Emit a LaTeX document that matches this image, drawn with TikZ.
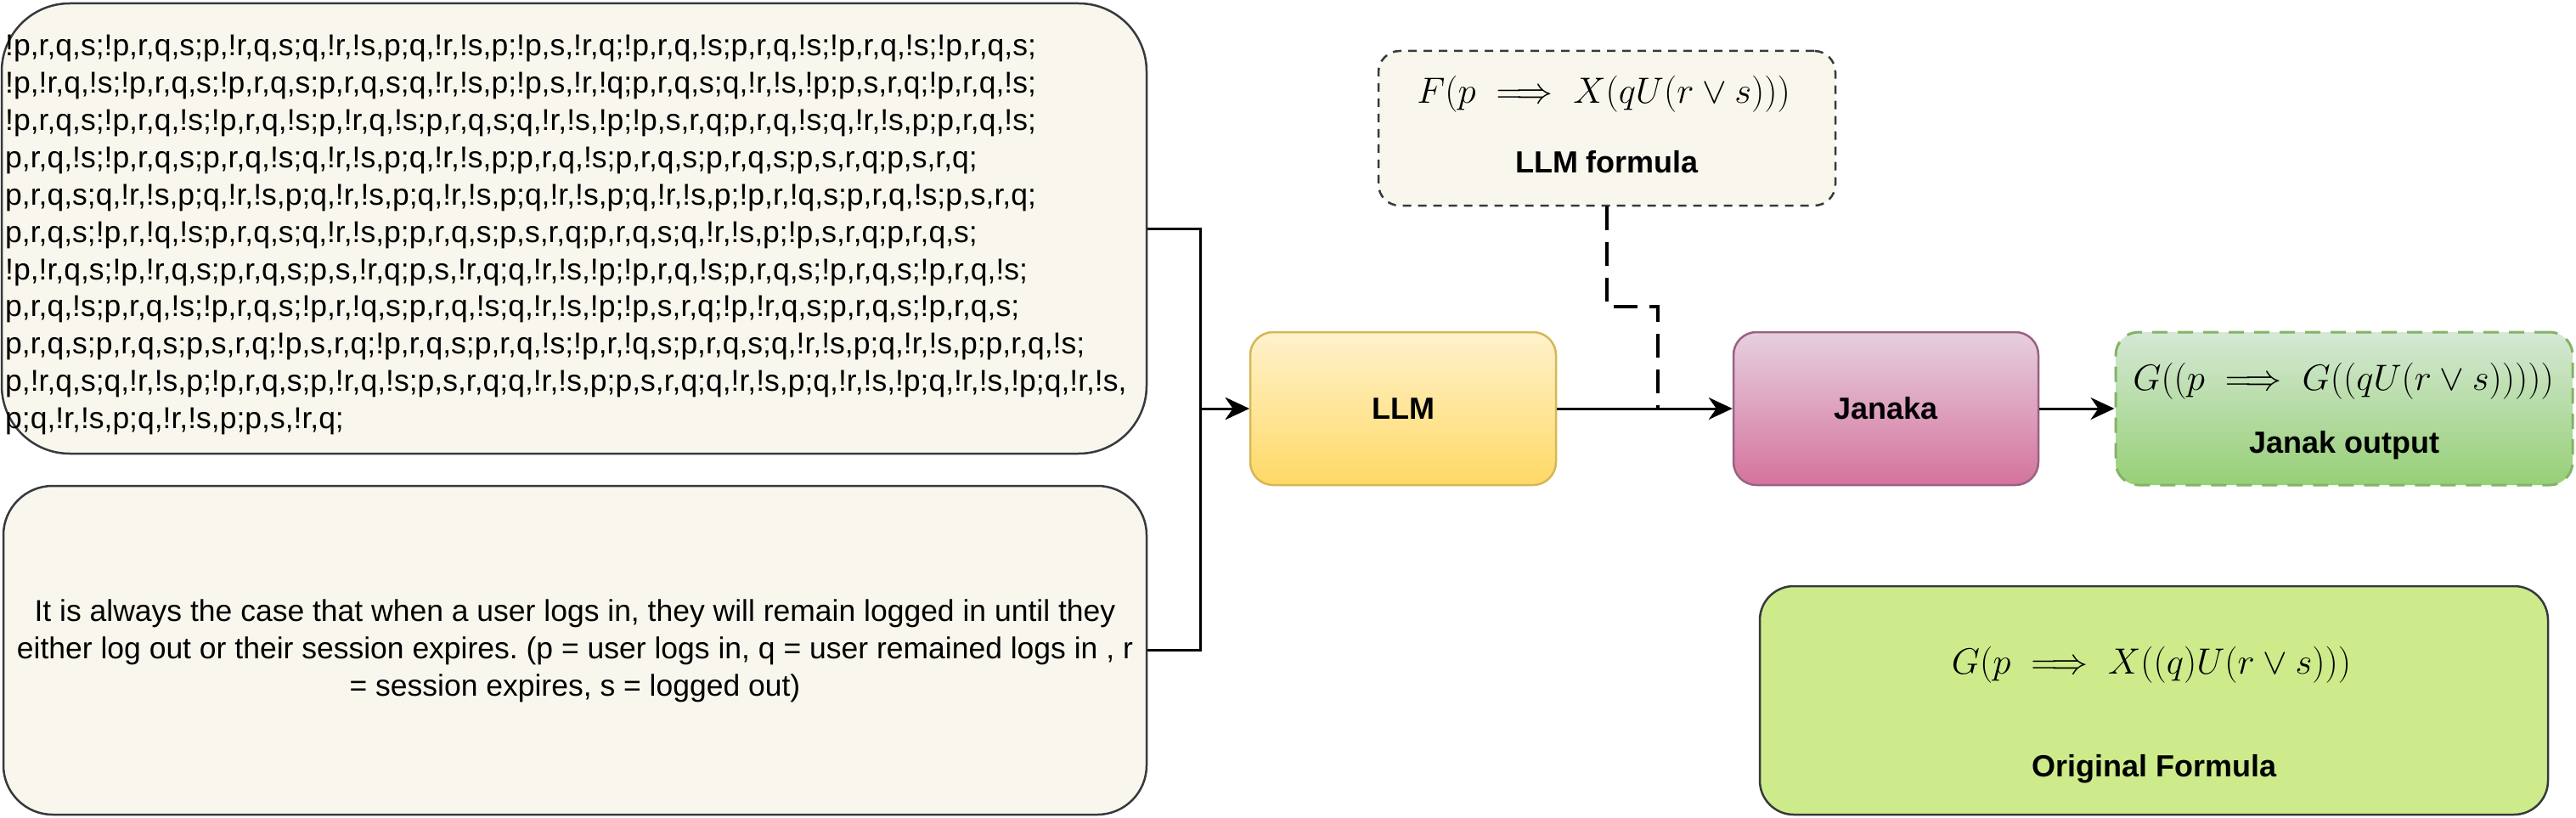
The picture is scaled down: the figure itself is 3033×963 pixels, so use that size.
\RequirePackage{fix-cm}
\documentclass[tikz,border=0pt]{standalone}
\usepackage{amsmath}
\usepackage[no-math]{fontspec}
\setmainfont{Liberation Sans}
\usetikzlibrary{arrows.meta}
\frenchspacing

\definecolor{boxline}{HTML}{36393D}
\definecolor{boxfill}{HTML}{F9F7ED}
\definecolor{llmtop}{HTML}{FFF2CC}
\definecolor{llmbot}{HTML}{FFD966}
\definecolor{llmline}{HTML}{D6B656}
\definecolor{jantop}{HTML}{E6D0DE}
\definecolor{janbot}{HTML}{D5739D}
\definecolor{janline}{HTML}{996185}
\definecolor{outtop}{HTML}{D5E8D4}
\definecolor{outbot}{HTML}{97D077}
\definecolor{outgreen}{HTML}{82B366}
\definecolor{origfill}{HTML}{CDEB8B}

\begin{document}
\begin{tikzpicture}[x=1pt,y=-1pt,
  txt/.style={font=\fontsize{35.5}{43.9}\selectfont, inner sep=0pt},
  lbl/.style={font=\fontsize{36}{43}\selectfont\bfseries, inner sep=0pt},
  mth/.style={font=\fontsize{43}{50}\selectfont, inner sep=0pt},
  greybox/.style={draw=boxline, fill=boxfill, line width=2.5pt, rectangle, inner sep=0pt},
  llmbox/.style={draw=llmline, top color=llmtop, bottom color=llmbot, line width=2.5pt, rounded corners=27pt, minimum width=360pt, minimum height=180pt, inner sep=0pt},
  janbox/.style={draw=janline, top color=jantop, bottom color=janbot, line width=2.5pt, rounded corners=27pt, minimum width=359pt, minimum height=180pt, inner sep=0pt},
  outbox/.style={draw=outgreen, top color=outtop, bottom color=outbot, line width=3pt, dash pattern=on 18pt off 12pt, rounded corners=27pt, minimum width=538pt, minimum height=180pt, inner sep=0pt},
  fbox/.style={draw=boxline, fill=boxfill, line width=2.5pt, dash pattern=on 10pt off 8pt, rounded corners=25pt, minimum width=538pt, minimum height=182pt, inner sep=0pt},
  origbox/.style={draw=boxline, fill=origfill, line width=2.5pt, rounded corners=40pt, minimum width=928pt, minimum height=269pt, inner sep=0pt},
  arrow/.style={draw=black, line width=3pt, -{Stealth[length=28pt,width=26pt,inset=9pt]}},
  sketchdash/.style={draw=black, line width=4pt, dash pattern=on 28pt off 14pt}
]
\useasboundingbox (0,0) rectangle (3033,963);

% left boxes
\node[greybox, rounded corners=80pt, minimum width=1348pt, minimum height=530pt] (tl) at (676,269) {};
\node[txt, anchor=north west, align=left] (tltext) at (6,41) {%
!p,r,q,s;!p,r,q,s;p,!r,q,s;q,!r,!s,p;q,!r,!s,p;!p,s,!r,q;!p,r,q,!s;p,r,q,!s;!p,r,q,!s;!p,r,q,s;\\
!p,!r,q,!s;!p,r,q,s;!p,r,q,s;p,r,q,s;q,!r,!s,p;!p,s,!r,!q;p,r,q,s;q,!r,!s,!p;p,s,r,q;!p,r,q,!s;\\
!p,r,q,s;!p,r,q,!s;!p,r,q,!s;p,!r,q,!s;p,r,q,s;q,!r,!s,!p;!p,s,r,q;p,r,q,!s;q,!r,!s,p;p,r,q,!s;\\
p,r,q,!s;!p,r,q,s;p,r,q,!s;q,!r,!s,p;q,!r,!s,p;p,r,q,!s;p,r,q,s;p,r,q,s;p,s,r,q;p,s,r,q;\\
p,r,q,s;q,!r,!s,p;q,!r,!s,p;q,!r,!s,p;q,!r,!s,p;q,!r,!s,p;q,!r,!s,p;!p,r,!q,s;p,r,q,!s;p,s,r,q;\\
p,r,q,s;!p,r,!q,!s;p,r,q,s;q,!r,!s,p;p,r,q,s;p,s,r,q;p,r,q,s;q,!r,!s,p;!p,s,r,q;p,r,q,s;\\
!p,!r,q,s;!p,!r,q,s;p,r,q,s;p,s,!r,q;p,s,!r,q;q,!r,!s,!p;!p,r,q,!s;p,r,q,s;!p,r,q,s;!p,r,q,!s;\\
p,r,q,!s;p,r,q,!s;!p,r,q,s;!p,r,!q,s;p,r,q,!s;q,!r,!s,!p;!p,s,r,q;!p,!r,q,s;p,r,q,s;!p,r,q,s;\\
p,r,q,s;p,r,q,s;p,s,r,q;!p,s,r,q;!p,r,q,s;p,r,q,!s;!p,r,!q,s;p,r,q,s;q,!r,!s,p;q,!r,!s,p;p,r,q,!s;\\
p,!r,q,s;q,!r,!s,p;!p,r,q,s;p,!r,q,!s;p,s,r,q;q,!r,!s,p;p,s,r,q;q,!r,!s,p;q,!r,!s,!p;q,!r,!s,!p;q,!r,!s,\\
p;q,!r,!s,p;q,!r,!s,p;p,s,!r,q;};

\node[greybox, rounded corners=58pt, minimum width=1346pt, minimum height=387pt] (bl) at (677,765.5) {};
\node[txt, align=center] (bltext) at (677,766) {It is always the case that when a user logs in, they will remain logged in until they\\either log out or their session expires. (p = user logs in, q = user remained logs in , r\\= session expires, s = logged out)};

% middle boxes
\node[llmbox, lbl] (llm) at (1652,481) {LLM};
\node[janbox, lbl] (jan) at (2220.5,481) {Janaka};

% LLM formula
\node[fbox] (llmf) at (1892,151) {};
\node[mth] (llmfm) at (1888,111) {$F(p \implies X(qU(r \lor s)))$};
\node[lbl] (llmfl) at (1892,191) {LLM formula};

% Janak output
\node[outbox] (out) at (2760,481) {};
\node[mth] (outm) at (2759,449) {$G((p \implies G((qU(r \lor s)))))$};
\node[lbl] (outl) at (2760,524) {Janak output};

% Original formula
\node[origbox] (orig) at (2536,824.5) {};
\node[mth] (origm) at (2533,783) {$G(p \implies X((q)U(r \lor s)))$};
\node[lbl] (origl) at (2536,905) {Original Formula};

% connectors
\draw[arrow] (tl.east) -- ++(62,0) |- (llm.west);
\draw[arrow] (bl.east) -- ++(62,0) |- (llm.west);
\draw[arrow] (llm.east) -- (jan.west);
\draw[arrow] (jan.east) -- (out.west);
\coordinate (join) at (1952,481);
\draw[sketchdash] (llmf.south) -- ++(0,118) -| (join);
\end{tikzpicture}
\end{document}
